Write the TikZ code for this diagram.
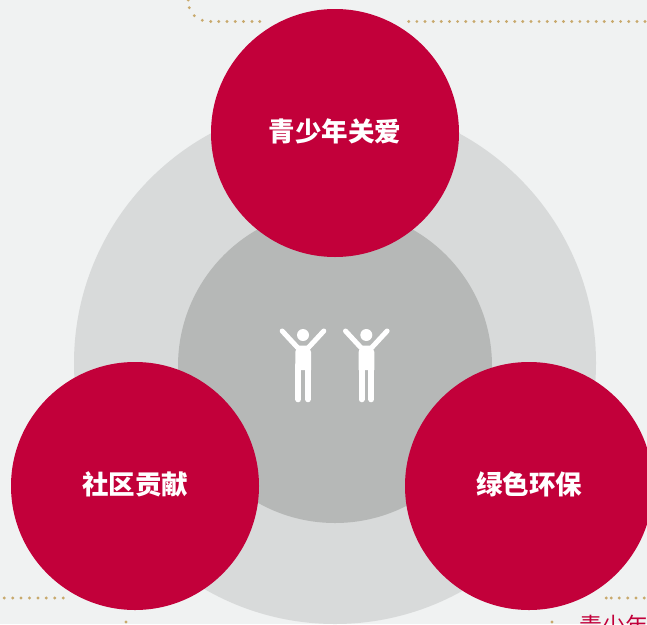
\documentclass[tikz,border=0pt]{standalone}
\usepackage{fontspec}
\newfontfamily\cjk{Noto Sans CJK SC}
\definecolor{bgc}{HTML}{F0F2F2}
\definecolor{outerc}{HTML}{D8DADA}
\definecolor{innerc}{HTML}{B6B8B7}
\definecolor{redc}{HTML}{C2003A}
\definecolor{dotc}{HTML}{C8A96C}
\tikzset{
  redcircle/.style={circle,fill=redc,draw=none,minimum size=248pt,inner sep=0pt,text=white,font=\cjk\bfseries\fontsize{26.5}{26.5}\selectfont},
  fig/.style={fill=white,draw=none},
  limb/.style={draw=white,line width=5pt,line cap=round,line join=round},
  golddot/.style={fill=dotc,draw=none}
}
\begin{document}
\begin{tikzpicture}[x=1pt,y=-1pt]
\useasboundingbox (0,0) rectangle (647,624);
\begin{scope}
\clip (0,0) rectangle (647,624);
\fill[bgc] (0,0) rectangle (647,624);
% dotted lines
\foreach \x/\y in {188.3/0,189.3/7.7,194.3/15.7,202.3/20.3,210.7/21.5,218.8/21.5,227/21.5,235.2/21.5,243.5/21.5,252/21.5,259.7/21.5}
  \fill[golddot] (\x,\y) circle (1.6pt);
\foreach \i in {0,...,29}
  \fill[golddot] ({408.7+8.15*\i},21.5) circle (1.6pt);
\foreach \x in {4.3,12.7,21,29.5,38,46.3,54.7,63.3}
  \fill[golddot] (\x,598) circle (1.6pt);
\fill[golddot] (126,622) circle (1.6pt);
\foreach \x in {606.3,611.3,619.3,627.7,636,644.3}
  \fill[golddot] (\x,598) circle (1.6pt);
\fill[golddot] (552,622) circle (1.6pt);
% concentric discs
\node[circle,fill=outerc,draw=none,minimum size=522pt,inner sep=0pt] (outer) at (335,363) {};
\node[circle,fill=innerc,draw=none,minimum size=314pt,inner sep=0pt] (inner) at (335,366) {};
% red discs
\node[redcircle] (top) at (335,133) {\raisebox{5pt}{青少年关爱}};
\node[redcircle] (left) at (135,486) {\raisebox{5pt}{社区贡献}};
\node[redcircle] (right) at (529,486) {\raisebox{5pt}{绿色环保}};
% people
\foreach \dx in {0,63.3}{
\begin{scope}[xshift=\dx pt]
  \fill[fig] (303,335) circle (6pt);
  \draw[limb] (282.2,331) -- (297.5,347.5);
  \draw[limb] (323.8,331) -- (308.5,347.5);
  \fill[fig] (295.3,352) -- (297.5,345.7) -- (308.5,345.7) -- (311,352) -- (311,370) -- (295.3,370) -- cycle;
  \draw[draw=white,line width=6pt,line cap=round] (298.3,365) -- (298.3,399.3);
  \draw[draw=white,line width=6pt,line cap=round] (308,365) -- (308,399.3);
\end{scope}}
% clipped text
\node[anchor=north west,inner sep=0pt,text=redc,font=\cjk\fontsize{23}{23}\selectfont] (cut) at (579,615) {青少年};
\end{scope}
\end{tikzpicture}
\end{document}
